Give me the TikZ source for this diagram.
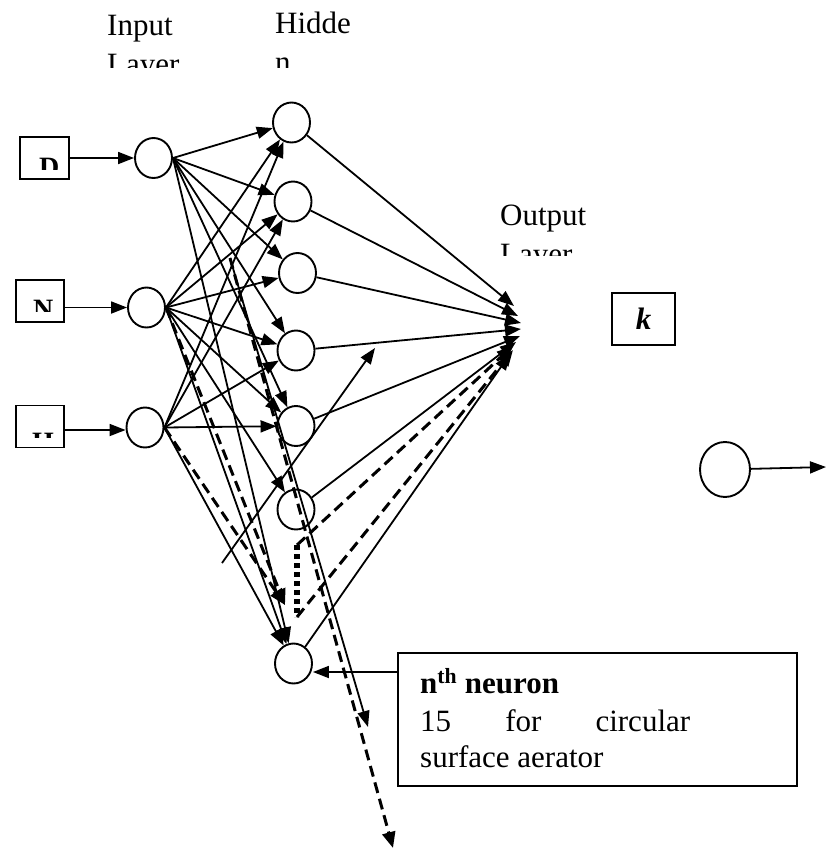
\documentclass[tikz,border=0pt]{standalone}
\usepackage{fontspec}
\setmainfont{Liberation Serif}
\usetikzlibrary{arrows.meta,shapes.geometric}
\begin{document}
\begin{tikzpicture}[x=1pt,y=-1pt,
  neuron/.style={ellipse, draw, line width=1.9pt, minimum width=37pt, minimum height=40pt, inner sep=0pt},
  inbox/.style={rectangle, draw, line width=1.9pt, minimum width=48pt, minimum height=42pt, inner sep=0pt},
  conn/.style={line width=1.8pt, -{Triangle[length=16pt,width=12pt]}},
  dconn/.style={line width=3pt, dash pattern=on 11pt off 6pt, -{Triangle[length=16pt,width=13pt]}},
  dotline/.style={line width=5.5pt, dash pattern=on 5pt off 4pt},
  big/.style={font=\fontsize{31}{39}\selectfont, inner sep=0pt},
  boxletter/.style={font=\fontsize{28}{32}\selectfont\bfseries, inner sep=0pt, anchor=base west},
]
\fill[white] (0,0) rectangle (826,855);
\useasboundingbox (0,0) rectangle (826,855);

% layer titles (clipped text boxes)
\begin{scope}
  \clip (100,0) rectangle (260,67);
  \node[big, anchor=base west] (tIn1) at (107,35) {Input};
  \node[big, anchor=base west] (tIn2) at (107,74) {Layer};
\end{scope}
\begin{scope}
  \clip (270,0) rectangle (400,67);
  \node[big, anchor=base west] (tHid1) at (275,33) {Hidde};
  \node[big, anchor=base west] (tHid2) at (275,72) {n};
\end{scope}
\begin{scope}
  \clip (495,180) rectangle (640,255);
  \node[big, anchor=base west] (tOut1) at (500,225) {Output};
  \node[big, anchor=base west] (tOut2) at (500,264) {Layer};
\end{scope}

% input boxes
\node[inbox, minimum width=49pt] (B1) at (44.5,158) {};
\node[inbox] (B2) at (40,301) {};
\node[inbox] (B3) at (40,426.5) {};
\begin{scope}
  \clip (25,140) rectangle (65,169);
  \node[boxletter] (g1) at (39,176) {D};
\end{scope}
\begin{scope}
  \clip (20,283) rectangle (60,311);
  \node[boxletter] (g2) at (33,318) {N};
\end{scope}
\begin{scope}
  \clip (20,410) rectangle (60,437);
  \node[boxletter] (g3) at (32,451) {H};
\end{scope}

% neurons
\node[neuron] (I1) at (153.5,158) {};
\node[neuron] (I2) at (146.5,307.5) {};
\node[neuron] (I3) at (145,427.5) {};
\node[neuron] (H1) at (291.5,122.5) {};
\node[neuron] (H2) at (293,201.5) {};
\node[neuron] (H3) at (297.5,273) {};
\node[neuron] (H4) at (296,350.5) {};
\node[neuron] (H5) at (296,426) {};
\node[neuron] (H6) at (296,509.5) {};
\node[neuron] (H7) at (293.5,663.5) {};
\node[ellipse, draw, line width=1.9pt, minimum width=50pt, minimum height=55pt, inner sep=0pt] (O) at (725,469.5) {};

% k box
\node[draw, line width=1.9pt, minimum width=63pt, minimum height=52pt, inner sep=0pt,
      font=\fontsize{31}{39}\selectfont\bfseries\itshape] (K) at (643.5,319) {k};

% n-th neuron box
\node[draw, line width=1.9pt, minimum width=399pt, minimum height=133pt, inner sep=0pt] (NB) at (597.5,719.5) {};
\node[big, anchor=base west] (nb1) at (420,693) {\textbf{n\textsuperscript{th} neuron}};
\node[big, anchor=base west] (nb2) at (420,731) {\hbox to 270pt{15\hfil for\hfil circular}};
\node[big, anchor=base west] (nb3) at (420,767) {surface aerator};

% coordinates
\coordinate (T1) at (514,306);
\coordinate (T2) at (518,316);
\coordinate (T3) at (521,323);
\coordinate (T4) at (521,329);
\coordinate (T5) at (520,336);
\coordinate (T6) at (516,342);
\coordinate (T7) at (513,346);
\coordinate (T8) at (513,350);
\coordinate (T9) at (510,354);
\coordinate (DT) at (285,605);
\coordinate (V1) at (297,545);
\coordinate (V2) at (297,617);
\coordinate (LS) at (230,258);
\coordinate (LE1) at (368,727);
\coordinate (LE2) at (393,848);
\coordinate (oddS) at (222,563);
\coordinate (oddE) at (375,348);
\coordinate (nbT) at (398,672);
\coordinate (Oend) at (826,467);

% box -> input
\draw[conn] (B1.east) -- (I1.west);
\draw[conn] (B2.east |- I2.west) -- (I2.west);
\draw[conn] (B3.east |- 0,430) -- (I3.west |- 0,430);

% input -> hidden
\foreach \h in {H1,H2,H3,H4,H5,H7} \draw[conn] (I1.east) -- (\h);
\foreach \h in {H1,H2,H3,H4,H5,H6,H7} \draw[conn] (I2.east) -- (\h);
\foreach \h in {H1,H2,H4,H5,H7} \draw[conn] (I3.east) -- (\h);

% dashed from inputs
\draw[dconn] (I2.east) -- (DT);
\draw[dconn] (I3.east) -- (DT);

% long lines
\draw[conn] (LS) -- (LE1);
\draw[dconn] (LS) -- (LE2);

% odd arrow
\draw[conn] (oddS) -- (oddE);

% hidden -> output
\draw[conn] (H1) -- (T1);
\draw[conn] (H2) -- (T2);
\draw[conn] (H3) -- (T3);
\draw[conn] (H4) -- (T4);
\draw[conn] (H5) -- (T5);
\draw[conn] (H6) -- (T6);
\draw[conn] (H7) -- (T9);
\draw[dotline] (V1) -- (V2);
\draw[dconn] (V1) -- (T7);
\draw[dconn] (V2) -- (T8);

% n-th neuron pointer
\draw[conn] (nbT) -- (nbT -| H7.east);

% output
\draw[conn] (O) -- (Oend);
\end{tikzpicture}
\end{document}
